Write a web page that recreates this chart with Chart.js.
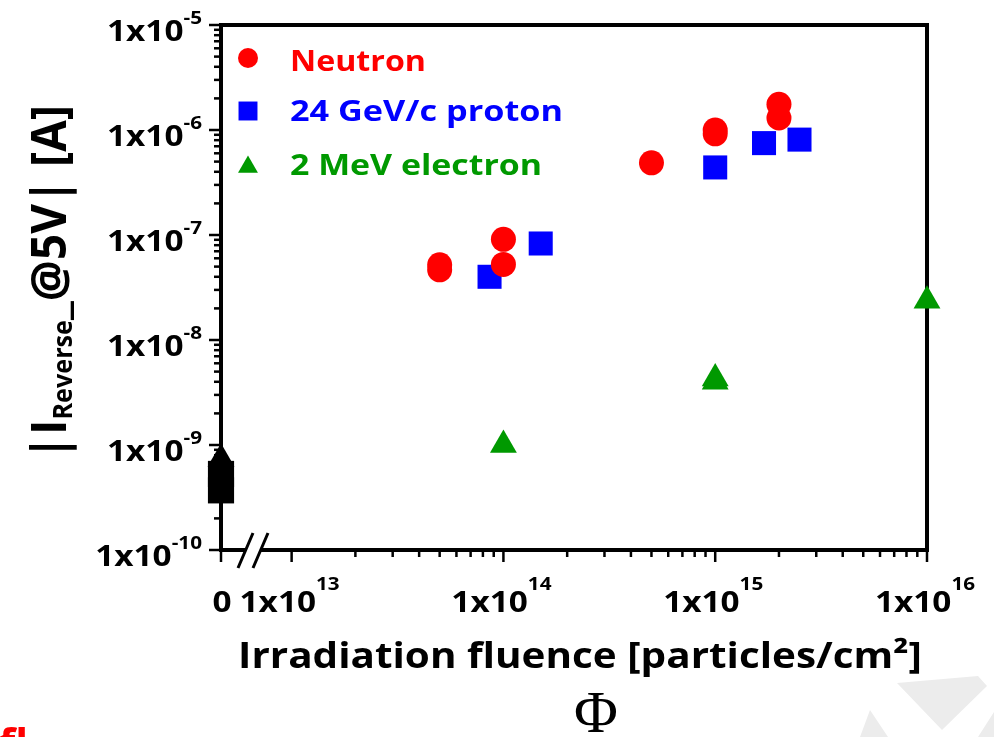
<!DOCTYPE html>
<html>
<head>
<meta charset="utf-8">
<script src="https://cdn.jsdelivr.net/npm/chart.js@4/dist/chart.umd.min.js"></script>
<style>
  html, body { margin: 0; padding: 0; background: #fff; }
  #wrap { width: 994px; height: 737px; }
</style>
</head>
<body>
<div id="wrap"><canvas id="chart" width="994" height="737"></canvas></div>
<script>
// =======================
// DATA
// =======================

// broken log axis: "0" sits at the left end
const xScaleMin = 4.64e12;
const xScaleMax = 1e16;
const yScaleMin = 1e-10;
const yScaleMax = 1e-5;

const neutronFluence = [5e13, 5e13, 1e14, 1e14, 5e14, 1e15, 1e15, 2e15, 2e15];
const neutronCurrent = [5.2e-8, 4.66e-8, 9.1e-8, 5.25e-8, 4.87e-7, 1.0e-6, 9.2e-7, 1.76e-6, 1.3e-6];

const protonFluence = [8.6e13, 1.5e14, 1e15, 1.7e15, 2.5e15];
const protonCurrent = [4.0e-8, 8.3e-8, 4.4e-7, 7.5e-7, 8.1e-7];

const electronFluence = [1e14, 1e15, 1e15, 1e16];
const electronCurrent = [1.0e-9, 4.3e-9, 4.0e-9, 2.37e-8];

// unirradiated reference samples
const zeroFluence = [0, 0, 0];
const zeroCurrent = [7.4e-10, 5.3e-10, 3.7e-10];
const zeroStyle = ['triangle', 'rect', 'rect'];

const xTickValues = [1e13, 1e14, 1e15, 1e16];
const xTickExp = ['13', '14', '15', '16'];
const yTickValues = [1e-10, 1e-9, 1e-8, 1e-7, 1e-6, 1e-5];
const yTickExp = ['-10', '-9', '-8', '-7', '-6', '-5'];

const seriesNames = ['Neutron', '24 GeV/c proton', '2 MeV electron'];
const seriesColors = ['#ff0000', '#0000ff', '#009900'];

const FONT = '"Open Sans", sans-serif';

function points(xs, ys) {
  // 0 fluence goes on the origin of the broken axis
  return xs.map((x, i) => ({ x: x === 0 ? xScaleMin : x, y: ys[i] }));
}

// =======================
// TEXT HELPERS
// =======================

function setFont(ctx, size, weight, family) {
  ctx.font = (weight || 'bold') + ' ' + size + 'px ' + (family || FONT);
}

function textW(ctx, s, size, sx) {
  setFont(ctx, size);
  return ctx.measureText(s).width * (sx || 1.15);
}

function drawText(ctx, s, x, y, o) {
  ctx.save();
  setFont(ctx, o.size, o.weight, o.family);
  ctx.fillStyle = o.color || '#000';
  ctx.textBaseline = 'alphabetic';
  ctx.textAlign = 'left';
  const raw = ctx.measureText(s).width;
  const sx = o.width ? o.width / raw : (o.sx || 1.15);
  const w = raw * sx;
  let left = x;
  if (o.align === 'center') left = x - w / 2;
  if (o.align === 'right') left = x - w;
  ctx.translate(left, y);
  ctx.scale(sx, 1);
  ctx.fillText(s, 0, 0);
  ctx.restore();
  return w;
}

// =======================
// AXES, LABELS, LEGEND
// =======================

const axesPlugin = {
  id: 'axesPlugin',
  beforeDatasetsDraw(chart) {
    const ctx = chart.ctx;
    const xs = chart.scales.x, ys = chart.scales.y, a = chart.chartArea;
    ctx.save();
    ctx.strokeStyle = '#000';

    // y ticks (outside, left)
    ctx.lineWidth = 2.5;
    for (let e = -10; e <= -5; e++) {
      for (let k = 1; k <= 9; k++) {
        const v = k * Math.pow(10, e);
        if (v > yScaleMax * 1.0001) break;
        const py = ys.getPixelForValue(v);
        const len = k === 1 ? 12 : 7;
        ctx.beginPath();
        ctx.moveTo(a.left, py);
        ctx.lineTo(a.left - len, py);
        ctx.stroke();
      }
    }
    // x ticks (outside, below)
    const xt = [xScaleMin];
    for (let e = 13; e <= 16; e++) {
      for (let k = 1; k <= 9; k++) {
        const v = k * Math.pow(10, e);
        if (v > xScaleMax * 1.0001) break;
        xt.push(v);
      }
    }
    xt.forEach(v => {
      const px = xs.getPixelForValue(v);
      const mant = v / Math.pow(10, Math.floor(Math.log10(v) + 1e-9));
      const len = (v === xScaleMin || Math.abs(mant - 1) < 1e-6) ? 12 : 7;
      ctx.beginPath();
      ctx.moveTo(px, a.bottom);
      ctx.lineTo(px, a.bottom + len);
      ctx.stroke();
    });

    // frame
    ctx.lineWidth = 4;
    ctx.lineCap = 'square';
    ctx.beginPath();
    ctx.moveTo(a.left, a.bottom);
    ctx.lineTo(a.left, a.top);
    ctx.lineTo(a.right, a.top);
    ctx.lineTo(a.right, a.bottom);
    ctx.stroke();
    ctx.lineCap = 'butt';
    ctx.beginPath();
    ctx.moveTo(a.left - 2, a.bottom);
    ctx.lineTo(a.left + 24, a.bottom);
    ctx.moveTo(a.left + 40, a.bottom);
    ctx.lineTo(a.right + 2, a.bottom);
    ctx.stroke();

    // axis break
    ctx.lineWidth = 3;
    ctx.beginPath();
    ctx.moveTo(a.left + 17, a.bottom + 18);
    ctx.lineTo(a.left + 32, a.bottom - 17);
    ctx.moveTo(a.left + 32, a.bottom + 18);
    ctx.lineTo(a.left + 47, a.bottom - 17);
    ctx.stroke();
    ctx.restore();
  },

  afterDraw(chart) {
    const ctx = chart.ctx;
    const xs = chart.scales.x, ys = chart.scales.y, a = chart.chartArea;

    // y tick labels 1x10^n
    yTickValues.forEach((v, i) => {
      const py = ys.getPixelForValue(v);
      const supW = textW(ctx, yTickExp[i], 18);
      const mainW = textW(ctx, '1x10', 29);
      const right = a.left - 19;
      drawText(ctx, '1x10', right - supW - mainW, py + 15.5, { size: 29 });
      drawText(ctx, yTickExp[i], right - supW, py - 1, { size: 18 });
    });

    // x tick labels
    drawText(ctx, '0', a.left + 1, a.bottom + 62, { size: 29, align: 'center' });
    xTickValues.forEach((v, i) => {
      const px = xs.getPixelForValue(v);
      const supW = textW(ctx, xTickExp[i], 18);
      const mainW = textW(ctx, '1x10', 29);
      const left = px - (supW + mainW) / 2 - 2;
      drawText(ctx, '1x10', left, a.bottom + 62, { size: 29 });
      drawText(ctx, xTickExp[i], left + mainW, a.bottom + 40, { size: 18 });
    });

    // x title
    drawText(ctx, 'Irradiation fluence [particles/cm\u00B2]', 580, 668,
      { size: 35, align: 'center', width: 684 });

    // y title, rotated, with subscript
    const parts = [['|I', 40, 0], ['Reverse', 22, 5], ['_@5V| [A]', 40, 0]];
    let raw = 0;
    parts.forEach(p => { setFont(ctx, p[1]); raw += ctx.measureText(p[0]).width; });
    const along = 355 / raw;
    ctx.save();
    ctx.translate(66, 460);
    ctx.rotate(-Math.PI / 2);
    ctx.scale(along, 1.2);
    ctx.fillStyle = '#000';
    ctx.textBaseline = 'alphabetic';
    let cx = 0;
    parts.forEach(p => {
      setFont(ctx, p[1]);
      ctx.fillText(p[0], cx, p[2]);
      cx += ctx.measureText(p[0]).width;
    });
    ctx.restore();

    // legend, inside the plot
    const legendY = [58, 111, 167];
    const legendBase = [71, 121, 175];
    const legendW = [136, 273, 252];
    const markR = [10, 13.4, 11.5];
    [0, 1, 2].forEach(i => {
      const ds = chart.data.datasets[i];
      ctx.save();
      ctx.fillStyle = seriesColors[i];
      ctx.strokeStyle = seriesColors[i];
      Chart.helpers.drawPoint(ctx, { pointStyle: ds.pointStyle, radius: markR[i], rotation: 0, borderWidth: 0 },
        248, legendY[i]);
      ctx.restore();
      drawText(ctx, seriesNames[i], 290, legendBase[i], { size: 28, color: seriesColors[i], width: legendW[i] });
    });

    // bits of the slide around the figure
    drawText(ctx, '\u03A6', 596, 732, { size: 60, weight: 'normal', family: '"Liberation Serif", serif', align: 'center', sx: 1 });
    drawText(ctx, 'fl', -1, 758, { size: 42, color: '#ff0000', sx: 1 });
    ctx.save();
    ctx.fillStyle = '#ececec';
    ctx.beginPath();
    ctx.moveTo(897, 683); ctx.lineTo(978, 676); ctx.lineTo(987, 686); ctx.lineTo(942, 730); ctx.closePath();
    ctx.moveTo(860, 737); ctx.lineTo(870, 710); ctx.lineTo(888, 737); ctx.closePath();
    ctx.moveTo(978, 737); ctx.lineTo(994, 712); ctx.lineTo(994, 737); ctx.closePath();
    ctx.fill();
    ctx.restore();
  }
};

// =======================
// CHART
// =======================

const ctx = document.getElementById('chart').getContext('2d');

const chart = new Chart(ctx, {
  type: 'scatter',
  data: {
    datasets: [
      {
        label: seriesNames[0],
        data: points(neutronFluence, neutronCurrent),
        pointStyle: 'circle',
        pointRadius: 12.5,
        backgroundColor: seriesColors[0],
        borderColor: seriesColors[0],
        pointBorderWidth: 0
      },
      {
        label: seriesNames[1],
        data: points(protonFluence, protonCurrent),
        pointStyle: 'rect',
        pointRadius: 17,
        backgroundColor: seriesColors[1],
        borderColor: seriesColors[1],
        pointBorderWidth: 0
      },
      {
        label: seriesNames[2],
        data: points(electronFluence, electronCurrent),
        pointStyle: 'triangle',
        pointRadius: 15.5,
        backgroundColor: seriesColors[2],
        borderColor: seriesColors[2],
        pointBorderWidth: 0
      },
      {
        label: 'unirradiated',
        data: points(zeroFluence, zeroCurrent),
        pointStyle: zeroStyle,
        pointRadius: [15.5, 18.5, 18.5],
        backgroundColor: '#000',
        borderColor: '#000',
        pointBorderWidth: 0
      }
    ]
  },
  options: {
    responsive: false,
    animation: false,
    clip: false,
    layout: { padding: { left: 221, right: 67, top: 25, bottom: 187 } },
    plugins: {
      legend: { display: false },
      tooltip: { enabled: false }
    },
    scales: {
      x: { type: 'logarithmic', display: false, min: xScaleMin, max: xScaleMax, bounds: 'data' },
      y: { type: 'logarithmic', display: false, min: yScaleMin, max: yScaleMax, bounds: 'data' }
    }
  },
  plugins: [axesPlugin]
});
</script>
</body>
</html>
